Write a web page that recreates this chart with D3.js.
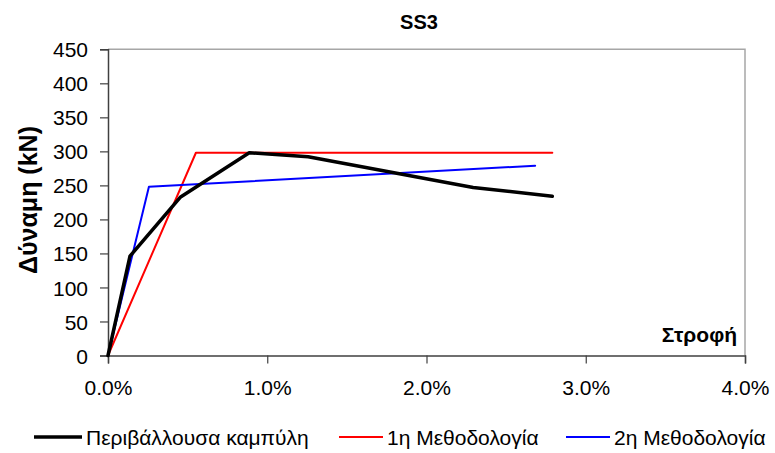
<!DOCTYPE html>
<html>
<head>
<meta charset="utf-8">
<script src="https://cdn.jsdelivr.net/npm/d3@7"></script>
<style>
  html, body { margin: 0; padding: 0; background: #fff; }
  svg { display: block; font-family: "Liberation Sans", Arial, sans-serif; }
</style>
</head>
<body>
<svg id="chart" width="775" height="453"></svg>
<script>
// Rotation (%) vs force (kN) for specimen SS3
const envelopeRot = [0, 0.138, 0.456, 0.887, 1.257, 2.293, 2.79];
const envelopeForce = [0, 146, 233, 298, 292, 247, 234];
const method1Rot = [0, 0.552, 2.79];
const method1Force = [0, 298, 298];
const method2Rot = [0, 0.257, 2.682];
const method2Force = [0, 248, 279];

const yTicks = [0, 50, 100, 150, 200, 250, 300, 350, 400, 450];
const xTicks = [0, 1, 2, 3, 4];

const seriesNames = ["Περιβάλλουσα καμπύλη", "1η Μεθοδολογία", "2η Μεθοδολογία"];
const seriesColors = ["#000000", "#ff0000", "#0000ff"];
const seriesWidths = [3.5, 2, 2];

const svg = d3.select("#chart");
const plotLeft = 108, plotRight = 745, plotTop = 49.3, plotBottom = 355.5;

const x = d3.scaleLinear().domain([0, 4]).range([plotLeft, plotRight]);
const y = d3.scaleLinear().domain([0, 450]).range([plotBottom, plotTop]);

// plot frame: light top/right edges
svg.append("path")
  .attr("d", `M${plotLeft},${plotTop}H${plotRight}V${plotBottom}`)
  .attr("fill", "none").attr("stroke", "#a6a6a6").attr("stroke-width", 1.5);

// axes
const yAxis = svg.append("g").attr("transform", `translate(${plotLeft},0)`)
  .call(d3.axisLeft(y).tickValues(yTicks).tickSize(8).tickPadding(12).tickFormat(d3.format("d")));
const xAxis = svg.append("g").attr("transform", `translate(0,${plotBottom})`)
  .call(d3.axisBottom(x).tickValues(xTicks).tickSize(8).tickPadding(17).tickFormat(d => d.toFixed(1) + "%"));

[yAxis, xAxis].forEach(g => {
  g.select(".domain").attr("stroke", "#404040").attr("stroke-width", 1.5);
  g.selectAll(".tick line").attr("stroke", "#404040").attr("stroke-width", 1.2);
  g.selectAll(".tick text").attr("fill", "#000").style("font-size", "21px")
    .style("font-family", "'Liberation Sans', Arial, sans-serif");
});
yAxis.selectAll(".tick text").attr("dy", "0.36em");

// series
const series = [
  [envelopeRot, envelopeForce],
  [method1Rot, method1Force],
  [method2Rot, method2Force]
];
const line = d3.line().x(d => x(d[0])).y(d => y(d[1]));
// draw red and blue first, envelope on top
[1, 2, 0].forEach(i => {
  const pts = series[i][0].map((r, k) => [r, series[i][1][k]]);
  svg.append("path").datum(pts)
    .attr("d", line)
    .attr("fill", "none")
    .attr("stroke", seriesColors[i])
    .attr("stroke-width", seriesWidths[i])
    .attr("stroke-linejoin", "round")
    .attr("stroke-linecap", "round");
});

// title
svg.append("text").attr("x", 419).attr("y", 29).attr("text-anchor", "middle")
  .style("font-weight", "bold").style("font-size", "20px").text("SS3");

// y-axis title
svg.append("text")
  .attr("transform", "translate(37,200) rotate(-90)")
  .attr("text-anchor", "middle")
  .style("font-weight", "bold").style("font-size", "25px")
  .text("Δύναμη (kN)");

// x-axis title inside the plot
svg.append("text").attr("x", 737).attr("y", 342).attr("text-anchor", "end")
  .style("font-weight", "bold").style("font-size", "21px").text("Στροφή");

// legend
const legendItems = [
  { x1: 34, x2: 82, tx: 86 },
  { x1: 339, x2: 383, tx: 387 },
  { x1: 566, x2: 610, tx: 614 }
];
const ly = 437;
legendItems.forEach((it, i) => {
  svg.append("line").attr("x1", it.x1).attr("x2", it.x2).attr("y1", ly).attr("y2", ly)
    .attr("stroke", seriesColors[i]).attr("stroke-width", i === 0 ? 3.5 : 2);
  svg.append("text").attr("x", it.tx).attr("y", ly).attr("dy", "0.36em")
    .style("font-size", "21px").text(seriesNames[i]);
});
</script>
</body>
</html>
